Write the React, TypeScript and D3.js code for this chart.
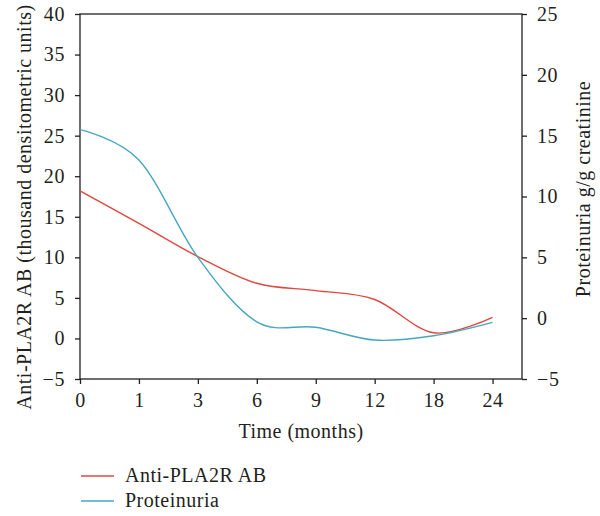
import React, { useRef, useEffect } from 'react';
import * as d3 from 'd3';

// months on the x axis (categorical, evenly spaced)
const months = ['0', '1', '3', '6', '9', '12', '18', '24'];
// anti-PLA2R antibody, thousand densitometric units (left axis)
const antiPLA2R = [18.2, 14.2, 10.1, 6.8, 5.9, 4.8, 0.7, 2.6];
// proteinuria g/g creatinine (right axis)
const proteinuria = [15.5, 13.0, 5.0, -0.3, -0.75, -1.8, -1.45, -0.35];

const leftTicks = [-5, 0, 5, 10, 15, 20, 25, 30, 35, 40];
const rightTicks = [-5, 0, 5, 10, 15, 20, 25];

const RED = '#e0473e';
const BLUE = '#46a7c0';
const INK = '#231f20';
const FONT = '"Liberation Serif", "DejaVu Serif", serif';

const App = () => {
    const svgRef = useRef<SVGSVGElement>(null);

    useEffect(() => {
        if (!svgRef.current) return;
        const W = 600, H = 516;
        const L = 80, R = 522, T = 14, B = 379;

        const svg = d3.select(svgRef.current);
        svg.selectAll('*').remove();
        svg.attr('width', W).attr('height', H);

        const step = (R - L) / (months.length - 0.5);
        const x = d3.scalePoint<string>().domain(months).range([L, L + step * (months.length - 1)]);
        const yL = d3.scaleLinear().domain([-5, 40]).range([B, T]);
        const yR = d3.scaleLinear().domain([-5, 25]).range([B, T]);

        const styleAxis = (g: any) => {
            g.select('.domain').remove();
            g.selectAll('.tick line').attr('stroke', INK).attr('stroke-width', 1.3);
            g.selectAll('.tick text').attr('fill', INK)
                .attr('font-family', FONT).attr('font-size', 20)
                .attr('letter-spacing', 0.6);
        };

        // frame
        svg.append('rect')
            .attr('x', L).attr('y', T).attr('width', R - L).attr('height', B - T)
            .attr('fill', 'none').attr('stroke', INK).attr('stroke-width', 1.3);

        svg.append('g').attr('transform', `translate(${L},0)`)
            .call(d3.axisLeft(yL).tickValues(leftTicks).tickSize(5).tickPadding(10))
            .call(styleAxis);

        svg.append('g').attr('transform', `translate(${R},0)`)
            .call(d3.axisRight(yR).tickValues(rightTicks).tickSize(5).tickPadding(10))
            .call(styleAxis);

        const xa = svg.append('g').attr('transform', `translate(0,${B})`)
            .call(d3.axisBottom(x).tickSize(5).tickPadding(9))
            .call(styleAxis);
        xa.selectAll('.tick text').attr('dy', '0.71em');

        // lines
        const lineL = d3.line<number>()
            .x((_, i) => x(months[i]) as number)
            .y(d => yL(d))
            .curve(d3.curveCatmullRom.alpha(0));
        const lineR = d3.line<number>()
            .x((_, i) => x(months[i]) as number)
            .y(d => yR(d))
            .curve(d3.curveCatmullRom.alpha(0));

        svg.append('path').datum(antiPLA2R).attr('d', lineL)
            .attr('fill', 'none').attr('stroke', RED).attr('stroke-width', 1.4);
        svg.append('path').datum(proteinuria).attr('d', lineR)
            .attr('fill', 'none').attr('stroke', BLUE).attr('stroke-width', 1.4);

        // axis titles
        const title = (sel: any) => sel
            .attr('text-anchor', 'middle').attr('fill', INK)
            .attr('font-family', FONT).attr('font-size', 20)
            .attr('letter-spacing', 0.5);

        svg.append('text')
            .attr('transform', `translate(31,${207}) rotate(-90)`)
            .call(title)
            .text('Anti-PLA2R AB (thousand densitometric units)');

        svg.append('text')
            .attr('transform', `translate(590,${189}) rotate(-90)`)
            .call(title)
            .text('Proteinuria g/g creatinine');

        svg.append('text')
            .attr('x', (L + R) / 2).attr('y', 438)
            .call(title)
            .text('Time (months)');

        // legend
        const legend = [
            { label: 'Anti-PLA2R AB', colour: RED, y: 476 },
            { label: 'Proteinuria', colour: BLUE, y: 501 },
        ];
        const lg = svg.append('g').selectAll('g').data(legend).enter().append('g');
        lg.append('line')
            .attr('x1', 81).attr('x2', 114)
            .attr('y1', d => d.y).attr('y2', d => d.y)
            .attr('stroke', d => d.colour).attr('stroke-width', 1.4);
        lg.append('text')
            .attr('x', 125).attr('y', d => d.y + 6)
            .attr('fill', INK).attr('font-family', FONT).attr('font-size', 20)
            .attr('letter-spacing', 0.5)
            .text(d => d.label);
    }, []);

    return (
        <div style={{ position: 'absolute', left: 0, top: 0 }}>
            <svg ref={svgRef} style={{ display: 'block' }} />
        </div>
    );
};

export default App;
